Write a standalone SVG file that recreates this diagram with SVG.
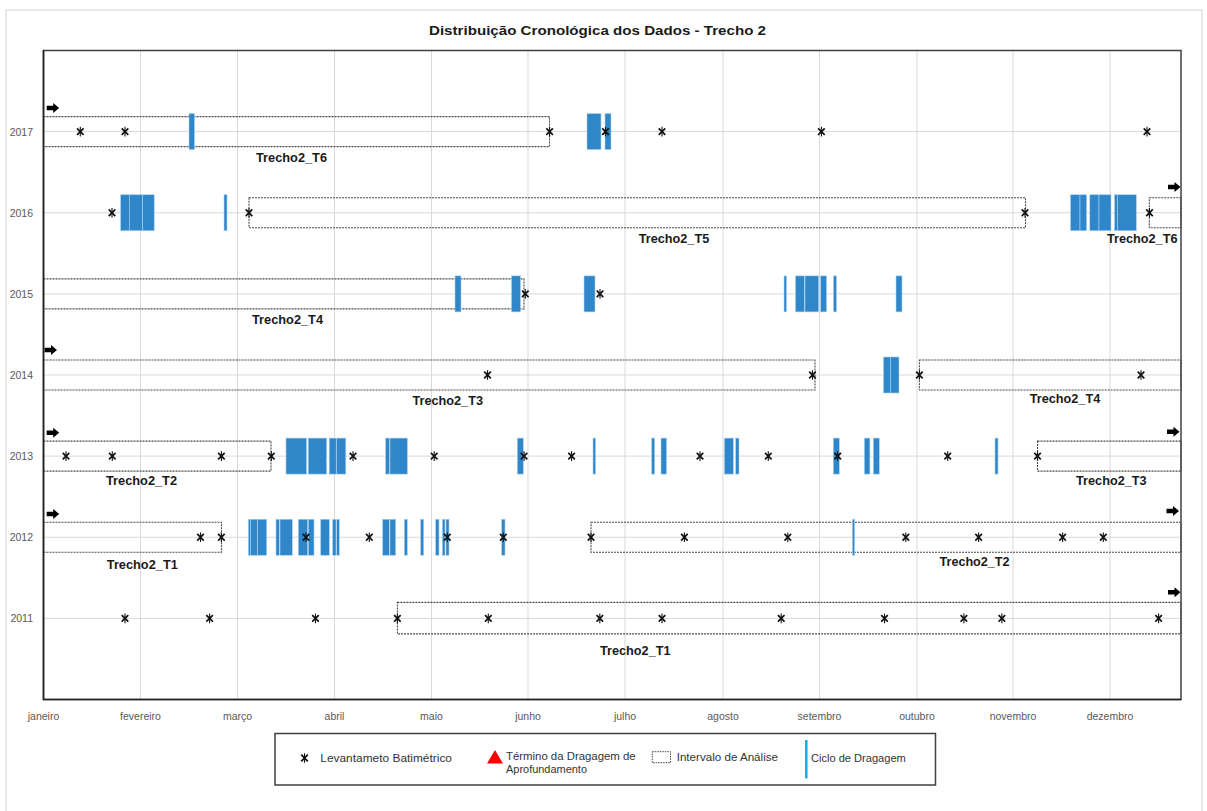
<svg xmlns="http://www.w3.org/2000/svg" xmlns:xlink="http://www.w3.org/1999/xlink" width="1207" height="811" viewBox="0 0 1207 811">
<style>
.grid{stroke:#d9d9d9;stroke-width:1;fill:none}
.frame{fill:none;stroke:#404040;stroke-width:1.5}
.box{fill:none;stroke:#4a4a4a;stroke-width:1.1;stroke-dasharray:2,1}
.bar{fill:#2f86c9;stroke:#a9d1f0;stroke-width:0.6}
.yr{font-family:"Liberation Sans",Arial,sans-serif;font-size:10.5px;fill:#595959;text-anchor:end}
.mo{font-family:"Liberation Sans",Arial,sans-serif;font-size:10.5px;fill:#595959;text-anchor:middle}
.lbl{font-family:"Liberation Sans",Arial,sans-serif;font-size:12.5px;font-weight:bold;fill:#1a1a1a}
.title{font-family:"Liberation Sans",Arial,sans-serif;font-size:13.5px;font-weight:bold;fill:#1a1a1a}
.leg{font-family:"Liberation Sans",Arial,sans-serif;font-size:10px;fill:#333}
</style>
<defs>
<g id="star"><path d="M-3.3,-3.3 L3.3,3.3 M-3.3,3.3 L3.3,-3.3" stroke="#111" stroke-width="1.7" fill="none"/><path d="M0,-4.8 L0,4.8" stroke="#111" stroke-width="1.1" fill="none"/></g>
<polygon id="arrow" points="0,-2.3 6.5,-2.3 6.5,-5 12.5,0 6.5,5 6.5,2.3 0,2.3" fill="#000"/>
</defs>
<rect x="0" y="0" width="1207" height="811" fill="#fff"/>
<rect x="6" y="10" width="1196" height="820" fill="#fff" stroke="#d9d9d9" stroke-width="1.2"/>
<text class="title" x="429" y="34.5" textLength="337" lengthAdjust="spacingAndGlyphs">Distribuição Cronológica dos Dados - Trecho 2</text>

<g id="grid">
<line class="grid" x1="140.5" y1="50.5" x2="140.5" y2="699.5"/>
<line class="grid" x1="237.5" y1="50.5" x2="237.5" y2="699.5"/>
<line class="grid" x1="334.5" y1="50.5" x2="334.5" y2="699.5"/>
<line class="grid" x1="431.5" y1="50.5" x2="431.5" y2="699.5"/>
<line class="grid" x1="528" y1="50.5" x2="528" y2="699.5"/>
<line class="grid" x1="625" y1="50.5" x2="625" y2="699.5"/>
<line class="grid" x1="723" y1="50.5" x2="723" y2="699.5"/>
<line class="grid" x1="819.5" y1="50.5" x2="819.5" y2="699.5"/>
<line class="grid" x1="917" y1="50.5" x2="917" y2="699.5"/>
<line class="grid" x1="1013" y1="50.5" x2="1013" y2="699.5"/>
<line class="grid" x1="1110" y1="50.5" x2="1110" y2="699.5"/>
<line class="grid" x1="43.5" y1="131.6" x2="1181" y2="131.6"/>
<line class="grid" x1="43.5" y1="212.75" x2="1181" y2="212.75"/>
<line class="grid" x1="43.5" y1="293.9" x2="1181" y2="293.9"/>
<line class="grid" x1="43.5" y1="375" x2="1181" y2="375"/>
<line class="grid" x1="43.5" y1="456.1" x2="1181" y2="456.1"/>
<line class="grid" x1="43.5" y1="537.25" x2="1181" y2="537.25"/>
<line class="grid" x1="43.5" y1="618.4" x2="1181" y2="618.4"/>
</g>

<g id="axis-labels">
<text class="yr" x="33" y="135.6">2017</text>
<text class="yr" x="33" y="216.75">2016</text>
<text class="yr" x="33" y="297.9">2015</text>
<text class="yr" x="33" y="379">2014</text>
<text class="yr" x="33" y="460.1">2013</text>
<text class="yr" x="33" y="541.25">2012</text>
<text class="yr" x="33" y="622.4">2011</text>
<text class="mo" x="43.5" y="719.5">janeiro</text>
<text class="mo" x="140.5" y="719.5">fevereiro</text>
<text class="mo" x="237.5" y="719.5">março</text>
<text class="mo" x="334.5" y="719.5">abril</text>
<text class="mo" x="431.5" y="719.5">maio</text>
<text class="mo" x="528" y="719.5">junho</text>
<text class="mo" x="625" y="719.5">julho</text>
<text class="mo" x="723" y="719.5">agosto</text>
<text class="mo" x="819.5" y="719.5">setembro</text>
<text class="mo" x="917" y="719.5">outubro</text>
<text class="mo" x="1013" y="719.5">novembro</text>
<text class="mo" x="1110" y="719.5">dezembro</text>
</g>

<g id="row-2017">
<rect class="box" x="43.5" y="116.6" width="506" height="30"/>
<rect class="bar" x="189" y="113.6" width="5.5" height="36"/>
<rect class="bar" x="587" y="113.6" width="14" height="36"/>
<rect class="bar" x="605" y="113.6" width="6" height="36"/>
<use href="#star" x="80.3" y="131.6"/><use href="#star" x="125" y="131.6"/><use href="#star" x="549.6" y="131.6"/><use href="#star" x="605.5" y="131.6"/><use href="#star" x="662" y="131.6"/><use href="#star" x="821.4" y="131.6"/><use href="#star" x="1147" y="131.6"/>
<use href="#arrow" x="46.7" y="108"/>
<text class="lbl" x="256" y="161.5" textLength="71" lengthAdjust="spacingAndGlyphs">Trecho2_T6</text>
</g>

<g id="row-2016">
<rect class="box" x="249" y="197.75" width="776.5" height="30"/>
<rect class="box" x="1149.3" y="197.75" width="31.7" height="30"/>
<rect class="bar" x="120.6" y="194.75" width="8.7" height="36"/>
<rect class="bar" x="129.3" y="194.75" width="13" height="36"/>
<rect class="bar" x="142.6" y="194.75" width="11.6" height="36"/>
<rect class="bar" x="224" y="194.75" width="3" height="36"/>
<rect class="bar" x="1070.5" y="194.75" width="9.5" height="36"/>
<rect class="bar" x="1080" y="194.75" width="6.6" height="36"/>
<rect class="bar" x="1089.8" y="194.75" width="9.2" height="36"/>
<rect class="bar" x="1099" y="194.75" width="12" height="36"/>
<rect class="bar" x="1114.5" y="194.75" width="3" height="36"/>
<rect class="bar" x="1117.5" y="194.75" width="18.8" height="36"/>
<use href="#star" x="112" y="212.75"/><use href="#star" x="249" y="212.75"/><use href="#star" x="1025" y="212.75"/><use href="#star" x="1149.5" y="212.75"/>
<use href="#arrow" x="1168" y="187"/>
<text class="lbl" x="638.7" y="242.5" textLength="70.5" lengthAdjust="spacingAndGlyphs">Trecho2_T5</text>
<text class="lbl" x="1107" y="242.5" textLength="70.5" lengthAdjust="spacingAndGlyphs">Trecho2_T6</text>
</g>

<g id="row-2015">
<rect class="box" x="43.5" y="278.9" width="480.5" height="30"/>
<rect class="bar" x="455" y="275.9" width="6" height="36"/>
<rect class="bar" x="511.5" y="275.9" width="9" height="36"/>
<rect class="bar" x="584" y="275.9" width="11" height="36"/>
<rect class="bar" x="784" y="275.9" width="2.5" height="36"/>
<rect class="bar" x="795.5" y="275.9" width="9" height="36"/>
<rect class="bar" x="805" y="275.9" width="13.7" height="36"/>
<rect class="bar" x="820.6" y="275.9" width="6" height="36"/>
<rect class="bar" x="833.5" y="275.9" width="3" height="36"/>
<rect class="bar" x="896" y="275.9" width="6" height="36"/>
<use href="#star" x="525.3" y="293.9"/><use href="#star" x="600" y="293.9"/>
<text class="lbl" x="252" y="324.3" textLength="71" lengthAdjust="spacingAndGlyphs">Trecho2_T4</text>
</g>

<g id="row-2014">
<rect class="box" x="43.5" y="360" width="771.5" height="30"/>
<rect class="box" x="919.4" y="360" width="261.6" height="30"/>
<rect class="bar" x="883.5" y="357" width="7" height="36"/>
<rect class="bar" x="890.5" y="357" width="8.5" height="36"/>
<use href="#star" x="487.5" y="375"/><use href="#star" x="812.5" y="375"/><use href="#star" x="919.4" y="375"/><use href="#star" x="1141" y="375"/>
<use href="#arrow" x="44.5" y="350"/>
<text class="lbl" x="412.4" y="405.3" textLength="70.6" lengthAdjust="spacingAndGlyphs">Trecho2_T3</text>
<text class="lbl" x="1029.7" y="403.3" textLength="70.5" lengthAdjust="spacingAndGlyphs">Trecho2_T4</text>
</g>

<g id="row-2013">
<rect class="box" x="43.5" y="441.1" width="227.5" height="30"/>
<rect class="box" x="1037.5" y="441.1" width="143.5" height="30"/>
<rect class="bar" x="286" y="438.1" width="20.6" height="36"/>
<rect class="bar" x="308.2" y="438.1" width="18.5" height="36"/>
<rect class="bar" x="329.2" y="438.1" width="7" height="36"/>
<rect class="bar" x="336.5" y="438.1" width="9.3" height="36"/>
<rect class="bar" x="385.6" y="438.1" width="4" height="36"/>
<rect class="bar" x="390" y="438.1" width="17.4" height="36"/>
<rect class="bar" x="517.3" y="438.1" width="6" height="36"/>
<rect class="bar" x="593" y="438.1" width="2.6" height="36"/>
<rect class="bar" x="651.7" y="438.1" width="3" height="36"/>
<rect class="bar" x="661" y="438.1" width="5.6" height="36"/>
<rect class="bar" x="724.3" y="438.1" width="9" height="36"/>
<rect class="bar" x="735.7" y="438.1" width="3.3" height="36"/>
<rect class="bar" x="833.3" y="438.1" width="6" height="36"/>
<rect class="bar" x="864.3" y="438.1" width="5.6" height="36"/>
<rect class="bar" x="873.3" y="438.1" width="6" height="36"/>
<rect class="bar" x="995" y="438.1" width="3" height="36"/>
<use href="#star" x="66" y="456.1"/><use href="#star" x="112.3" y="456.1"/><use href="#star" x="221.4" y="456.1"/><use href="#star" x="271.3" y="456.1"/><use href="#star" x="353" y="456.1"/><use href="#star" x="434.2" y="456.1"/><use href="#star" x="524" y="456.1"/><use href="#star" x="571.6" y="456.1"/><use href="#star" x="700" y="456.1"/><use href="#star" x="768.3" y="456.1"/><use href="#star" x="837.7" y="456.1"/><use href="#star" x="947.7" y="456.1"/><use href="#star" x="1037.5" y="456.1"/>
<use href="#arrow" x="46.7" y="432.7"/>
<use href="#arrow" x="1167" y="431.7"/>
<text class="lbl" x="106" y="485" textLength="71" lengthAdjust="spacingAndGlyphs">Trecho2_T2</text>
<text class="lbl" x="1076" y="485" textLength="70.6" lengthAdjust="spacingAndGlyphs">Trecho2_T3</text>
</g>

<g id="row-2012">
<rect class="box" x="43.5" y="522.25" width="178" height="30"/>
<rect class="box" x="591" y="522.25" width="590" height="30"/>
<rect class="bar" x="248.3" y="519.25" width="2.4" height="36"/>
<rect class="bar" x="250.7" y="519.25" width="7" height="36"/>
<rect class="bar" x="257.7" y="519.25" width="9" height="36"/>
<rect class="bar" x="276" y="519.25" width="3.3" height="36"/>
<rect class="bar" x="280" y="519.25" width="12.3" height="36"/>
<rect class="bar" x="298.3" y="519.25" width="9.3" height="36"/>
<rect class="bar" x="308.3" y="519.25" width="5.7" height="36"/>
<rect class="bar" x="320.7" y="519.25" width="8.6" height="36"/>
<rect class="bar" x="332.7" y="519.25" width="3.3" height="36"/>
<rect class="bar" x="336.7" y="519.25" width="2.6" height="36"/>
<rect class="bar" x="382.7" y="519.25" width="6.6" height="36"/>
<rect class="bar" x="390" y="519.25" width="5.7" height="36"/>
<rect class="bar" x="404.3" y="519.25" width="3" height="36"/>
<rect class="bar" x="420.7" y="519.25" width="3" height="36"/>
<rect class="bar" x="435.7" y="519.25" width="3.3" height="36"/>
<rect class="bar" x="442.3" y="519.25" width="2.7" height="36"/>
<rect class="bar" x="446" y="519.25" width="3" height="36"/>
<rect class="bar" x="501.7" y="519.25" width="3.3" height="36"/>
<rect class="bar" x="852.4" y="519.25" width="2.2" height="36"/>
<use href="#star" x="200.5" y="537.25"/><use href="#star" x="221.4" y="537.25"/><use href="#star" x="306" y="537.25"/><use href="#star" x="369.3" y="537.25"/><use href="#star" x="447.3" y="537.25"/><use href="#star" x="503.3" y="537.25"/><use href="#star" x="591" y="537.25"/><use href="#star" x="684.4" y="537.25"/><use href="#star" x="787.8" y="537.25"/><use href="#star" x="905.8" y="537.25"/><use href="#star" x="978.6" y="537.25"/><use href="#star" x="1062.6" y="537.25"/><use href="#star" x="1103.3" y="537.25"/>
<use href="#arrow" x="46.7" y="514"/>
<use href="#arrow" x="1166.5" y="511"/>
<text class="lbl" x="106.8" y="569.3" textLength="71" lengthAdjust="spacingAndGlyphs">Trecho2_T1</text>
<text class="lbl" x="939.5" y="566" textLength="70" lengthAdjust="spacingAndGlyphs">Trecho2_T2</text>
</g>

<g id="row-2011">
<rect class="box" x="397.4" y="602.4" width="783.6" height="31.5"/>
<use href="#star" x="125" y="618.4"/><use href="#star" x="209.6" y="618.4"/><use href="#star" x="315.5" y="618.4"/><use href="#star" x="397.4" y="618.4"/><use href="#star" x="488.3" y="618.4"/><use href="#star" x="599.8" y="618.4"/><use href="#star" x="662" y="618.4"/><use href="#star" x="781.2" y="618.4"/><use href="#star" x="884.5" y="618.4"/><use href="#star" x="963.9" y="618.4"/><use href="#star" x="1001.9" y="618.4"/><use href="#star" x="1158.6" y="618.4"/>
<use href="#arrow" x="1168" y="592.3"/>
<text class="lbl" x="600" y="655.3" textLength="70.5" lengthAdjust="spacingAndGlyphs">Trecho2_T1</text>
</g>

<rect class="frame" x="43.5" y="50.5" width="1137.5" height="649"/>
<line x1="43.5" y1="50" x2="43.5" y2="700" stroke="#222" stroke-width="1.6"/>
<line x1="43" y1="699.5" x2="1181" y2="699.5" stroke="#222" stroke-width="1.6"/>

<g id="legend">
<rect x="275" y="733.5" width="660.5" height="51.5" fill="#fff" stroke="#404040" stroke-width="1.5"/>
<use href="#star" x="304.5" y="758"/>
<text class="leg" x="320.3" y="761.5" textLength="131.7" lengthAdjust="spacingAndGlyphs">Levantameto Batimétrico</text>
<polygon points="487,763.5 495,750 503,763.5" fill="#ff0000"/>
<text class="leg" x="506" y="760" textLength="129.6" lengthAdjust="spacingAndGlyphs">Término da Dragagem de</text>
<text class="leg" x="506" y="772.5" textLength="81" lengthAdjust="spacingAndGlyphs">Aprofundamento</text>
<rect x="652.3" y="751.7" width="18.2" height="11" fill="none" stroke="#4a4a4a" stroke-width="1" stroke-dasharray="1.5,1"/>
<text class="leg" x="676.7" y="760.5" textLength="101.3" lengthAdjust="spacingAndGlyphs">Intervalo de Análise</text>
<line x1="806.3" y1="740" x2="806.3" y2="778.3" stroke="#1ea5eb" stroke-width="2.5"/>
<text class="leg" x="811" y="761.5" textLength="94.8" lengthAdjust="spacingAndGlyphs">Ciclo de Dragagem</text>
</g>
</svg>
